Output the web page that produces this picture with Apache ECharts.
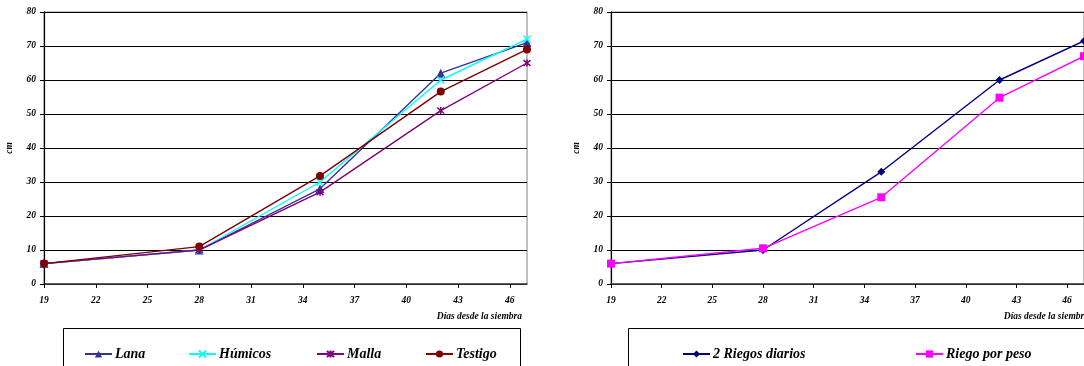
<!DOCTYPE html>
<html>
<head>
<meta charset="utf-8">
<script src="https://cdn.jsdelivr.net/npm/echarts@6/dist/echarts.min.js"></script>
<style>html,body{margin:0;padding:0;background:#fff;}#c{width:1084px;height:366px;}</style>
</head>
<body>
<div id="c"></div>
<script>
var days = [19, 28, 35, 42, 47];
var lana = [6, 10, 28, 62, 71];
var humicos = [6, 10, 30, 60, 72];
var malla = [6, 10, 27, 51, 65];
var testigo = [6, 11, 31.8, 56.6, 69];
var riegos2 = [6, 10, 33, 60, 71.5];
var riegoPeso = [6, 10.5, 25.5, 54.8, 67];
var xTitle = 'Días desde la siembra';
var yTitle = 'cm';

var FONT = '"Liberation Serif", "Times New Roman", serif';
function pairs(v) { return days.map(function (d, i) { return [d, v[i]]; }); }

var X_MARK = 'path://M0,0L10,10M10,0L0,10';
var STAR_MARK = 'path://M0,0L10,10M10,0L0,10M5,-1L5,11';

function xAxis(idx) {
  return {
    type: 'value', gridIndex: idx, min: 19, max: 47, interval: 3,
    axisLine: { show: true, lineStyle: { color: '#404040', width: 1.5 } },
    axisTick: { show: true, length: 4, lineStyle: { color: '#000' } },
    axisLabel: { showMaxLabel: false, margin: 12, color: '#000', fontFamily: FONT, fontSize: 9.5, fontWeight: 'bold', fontStyle: 'italic' },
    splitLine: { show: false }
  };
}
function yAxis(idx) {
  return {
    type: 'value', gridIndex: idx, min: 0, max: 80, interval: 10,
    name: yTitle, nameLocation: 'middle', nameGap: 29, nameRotate: 90,
    nameTextStyle: { color: '#000', fontFamily: FONT, fontSize: 9.5, fontWeight: 'bold', fontStyle: 'italic' },
    axisLine: { show: true, lineStyle: { color: '#000', width: 1.2 } },
    axisTick: { show: true, length: 4, lineStyle: { color: '#000' } },
    axisLabel: { margin: 8, color: '#000', fontFamily: FONT, fontSize: 9.5, fontWeight: 'bold', fontStyle: 'italic' },
    splitLine: { show: true, lineStyle: { color: '#000', width: 1 } }
  };
}
function line(name, data, color, symbol, size, idx, stroked) {
  return {
    type: 'line', name: name, xAxisIndex: idx, yAxisIndex: idx,
    data: pairs(data), symbol: symbol, symbolSize: size,
    lineStyle: { color: color, width: 1.4 },
    itemStyle: stroked ? { color: color, borderColor: color, borderWidth: 1.5 } : { color: color, borderWidth: 0 },
    showSymbol: true, animation: false
  };
}
function legend(name, left, top) {
  return {
    data: [name], left: left, top: top, itemWidth: 27, itemHeight: 9, itemGap: 0, padding: 0,
    textStyle: { color: '#000', fontFamily: FONT, fontSize: 14, fontWeight: 'bold', fontStyle: 'italic', padding: [0, 0, 0, -2] },
    selectedMode: false
  };
}

var chart = echarts.init(document.getElementById('c'));
chart.setOption({
  animation: false,
  grid: [
    { left: 44, top: 12, width: 483, height: 272, show: true, borderColor: '#808080', borderWidth: 1 },
    { left: 611, top: 12, width: 483, height: 272, show: true, borderColor: '#808080', borderWidth: 1 }
  ],
  xAxis: [xAxis(0), xAxis(1)],
  yAxis: [yAxis(0), yAxis(1)],
  legend: [
    legend('Lana', 84, 347),
    legend('Húmicos', 188, 347),
    legend('Malla', 316, 347),
    legend('Testigo', 425, 347),
    legend('2 Riegos diarios', 682, 347),
    legend('Riego por peso', 915, 347)
  ],
  series: [
    line('Lana', lana, '#333399', 'triangle', 9, 0, false),
    line('Húmicos', humicos, '#00FFFF', X_MARK, 7, 0, true),
    line('Malla', malla, '#800080', STAR_MARK, 7, 0, true),
    line('Testigo', testigo, '#800000', 'circle', 8, 0, false),
    line('2 Riegos diarios', riegos2, '#000080', 'diamond', 8, 1, false),
    line('Riego por peso', riegoPeso, '#FF00FF', 'rect', 8, 1, false)
  ],
  graphic: [
    { type: 'text', x: 522, y: 312, style: { text: xTitle, align: 'right', fill: '#000', font: 'italic bold 9.5px ' + FONT } },
    { type: 'text', x: 1089, y: 312, style: { text: xTitle, align: 'right', fill: '#000', font: 'italic bold 9.5px ' + FONT } },
    { type: 'rect', shape: { x: 63.5, y: 328.5, width: 457, height: 50 }, style: { fill: 'none', stroke: '#000', lineWidth: 1 } },
    { type: 'rect', shape: { x: 628.5, y: 328.5, width: 500, height: 50 }, style: { fill: 'none', stroke: '#000', lineWidth: 1 } }
  ]
});
</script>
</body>
</html>
